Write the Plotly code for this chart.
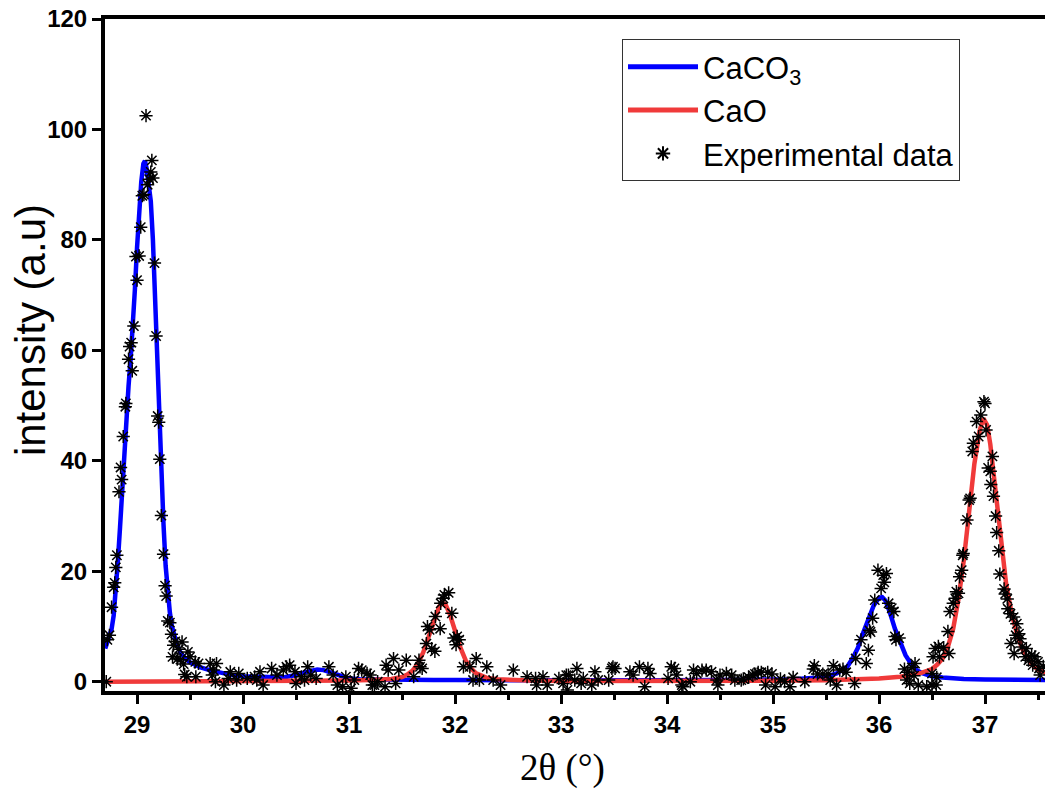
import plotly.graph_objects as go

# ---------------- fitted curves ----------------
caco3_x = [28.70, 28.73, 28.76, 28.78, 28.80, 28.82, 28.84, 28.86, 28.88, 28.90,
           28.92, 28.94, 28.96, 28.98, 29.00, 29.02, 29.04, 29.06, 29.075, 29.09,
           29.11, 29.13, 29.15, 29.17, 29.19, 29.21, 29.23, 29.25, 29.27, 29.29,
           29.31, 29.33, 29.35, 29.38, 29.41, 29.45, 29.50, 29.55, 29.60, 29.70,
           29.80, 29.90, 30.00, 30.10, 30.20, 30.30, 30.40, 30.47, 30.53, 30.58,
           30.64, 30.70, 30.76, 30.82, 30.88, 30.94, 31.00, 31.10, 31.20, 31.40,
           31.60, 31.80, 32.00, 32.50, 33.00, 33.50, 34.00, 34.50, 35.00, 35.20,
           35.40, 35.50, 35.60, 35.70, 35.75, 35.80, 35.85, 35.90, 35.95, 36.00,
           36.03, 36.06, 36.10, 36.15, 36.20, 36.25, 36.30, 36.35, 36.40, 36.50,
           36.60, 36.70, 36.80, 37.00, 37.20, 37.57]
caco3_y = [6.0, 7.5, 9.5, 12.0, 16.0, 22.0, 28.0, 35.0, 42.0, 48.0,
           53.5, 58.5, 64.0, 71.0, 78.5, 85.0, 90.5, 93.8, 94.3, 93.0,
           90.5, 87.0, 80.0, 69.0, 56.0, 45.5, 36.0, 28.5, 21.0, 16.0,
           12.5, 10.0, 8.3, 6.5, 5.3, 4.3, 3.5, 3.0, 2.6, 2.0,
           1.5, 1.2, 1.0, 0.9, 0.8, 0.8, 0.85, 1.0, 1.3, 1.7,
           2.0, 2.2, 2.1, 1.7, 1.2, 0.8, 0.6, 0.45, 0.4, 0.35,
           0.3, 0.3, 0.3, 0.25, 0.25, 0.25, 0.25, 0.3, 0.35, 0.45,
           0.7, 0.9, 1.5, 2.7, 4.2, 6.1, 8.8, 11.4, 13.8, 15.2,
           15.3, 14.7, 12.7, 9.6, 6.9, 4.8, 3.3, 2.2, 1.6, 1.0,
           0.75, 0.6, 0.5, 0.4, 0.35, 0.3]

cao_x = [28.70, 29.50, 30.00, 30.50, 31.00, 31.20, 31.40, 31.50, 31.55, 31.60,
         31.65, 31.70, 31.75, 31.80, 31.85, 31.88, 31.91, 31.95, 32.00, 32.05,
         32.10, 32.15, 32.20, 32.30, 32.40, 32.50, 32.70, 33.00, 33.50, 34.00,
         34.50, 35.00, 35.50, 35.80, 36.00, 36.20, 36.30, 36.40, 36.50, 36.55,
         36.60, 36.65, 36.70, 36.75, 36.80, 36.85, 36.90, 36.95, 36.985, 37.02,
         37.05, 37.10, 37.15, 37.20, 37.25, 37.30, 37.35, 37.40, 37.45, 37.50,
         37.57]
cao_y = [0.0, 0.0, 0.05, 0.1, 0.2, 0.3, 0.5, 0.85, 1.3, 2.0,
         3.3, 5.3, 8.0, 11.0, 13.6, 14.3, 14.0, 12.3, 9.3, 6.2,
         3.9, 2.4, 1.5, 0.7, 0.45, 0.32, 0.22, 0.15, 0.12, 0.12,
         0.13, 0.18, 0.28, 0.42, 0.6, 0.9, 1.2, 1.6, 2.3, 3.1,
         4.2, 6.3, 9.6, 15.0, 22.0, 30.5, 39.5, 45.5, 47.7, 46.5,
         43.0, 34.5, 25.5, 17.6, 12.5, 8.8, 6.0, 4.2, 3.0, 2.2,
         1.6]

# ---------------- experimental data ----------------
exp_x = [
    # 28.7 - 29.45
    28.71, 28.72, 28.74, 28.76, 28.78, 28.79, 28.80, 28.81, 28.83, 28.845,
    28.855, 28.87, 28.89, 28.895, 28.92, 28.93, 28.945, 28.955, 28.97, 28.99,
    29.00, 29.02, 29.035, 29.05, 29.065, 29.085, 29.10, 29.115, 29.13, 29.14,
    29.15, 29.165, 29.18, 29.195, 29.205, 29.215, 29.23, 29.25, 29.265, 29.275,
    29.29, 29.31, 29.325, 29.335, 29.345, 29.36, 29.38, 29.395, 29.41, 29.425,
    29.44, 29.45,
    # 29.45 - 31.3
    29.47, 29.48, 29.50, 29.55, 29.555, 29.58, 29.69, 29.71, 29.72, 29.74,
    29.75, 29.82, 29.86, 29.88, 29.94, 29.96, 30.04, 30.11, 30.13, 30.16,
    30.19, 30.27, 30.32, 30.38, 30.41, 30.44, 30.49, 30.50, 30.55, 30.58,
    30.61, 30.64, 30.69, 30.81, 30.85, 30.89, 30.94, 30.97, 31.02, 31.05,
    31.09, 31.12, 31.17, 31.20, 31.22, 31.24, 31.27,
    # 31.3 - 33.1
    31.34, 31.35, 31.37, 31.42, 31.44, 31.47, 31.54, 31.61, 31.66, 31.67,
    31.69, 31.73, 31.74, 31.76, 31.78, 31.81, 31.815, 31.86, 31.865, 31.89,
    31.90, 31.94, 31.97, 31.99, 32.01, 32.02, 32.04, 32.08, 32.14, 32.17,
    32.20, 32.23, 32.30, 32.36, 32.43, 32.55, 32.68, 32.76, 32.77, 32.83,
    32.87, 32.98, 33.02, 33.07,
    # 33.05 - 34.7
    33.05, 33.06, 33.13, 33.15, 33.19, 33.21, 33.29, 33.32, 33.35, 33.45,
    33.48, 33.49, 33.51, 33.65, 33.68, 33.74, 33.79, 33.82, 33.84, 34.01,
    34.04, 34.07, 34.09, 34.14, 34.15, 34.22, 34.25, 34.28, 34.33, 34.37,
    34.42, 34.47, 34.48, 34.50, 34.56, 34.61, 34.64, 34.70,
    # 34.7 - 36.5
    34.72, 34.77, 34.81, 34.83, 34.86, 34.89, 34.93, 34.95, 34.99, 35.02,
    35.07, 35.11, 35.16, 35.19, 35.30, 35.38, 35.39, 35.42, 35.47, 35.52,
    35.54, 35.57, 35.60, 35.63, 35.66, 35.69, 35.77, 35.78, 35.83, 35.88,
    35.90, 35.91, 35.92, 35.94, 35.96, 35.99, 36.02, 36.04, 36.05, 36.07,
    36.09, 36.12, 36.14, 36.15, 36.16, 36.19, 36.24, 36.26, 36.27, 36.29,
    36.31, 36.33, 36.34, 36.37, 36.45, 36.50,
    # 36.5 - 37.56
    36.50, 36.51, 36.53, 36.54, 36.545, 36.56, 36.57, 36.61, 36.65, 36.66,
    36.67, 36.70, 36.72, 36.73, 36.75, 36.76, 36.78, 36.79, 36.795, 36.83,
    36.85, 36.86, 36.88, 36.89, 36.92, 36.94, 36.96, 36.99, 37.00, 37.01,
    37.03, 37.05, 37.055, 37.07, 37.08, 37.10, 37.11, 37.13, 37.14, 37.18,
    37.19, 37.21, 37.215, 37.24, 37.245, 37.27, 37.275, 37.29, 37.30, 37.32,
    37.33, 37.35, 37.38, 37.39, 37.41, 37.44, 37.45, 37.47, 37.50, 37.51,
    37.52, 37.55,
]
exp_y = [
    # 28.7 - 29.45
    0.0, 7.6, 8.4, 13.5, 17.1, 17.9, 20.7, 22.9, 34.4, 38.8,
    36.6, 44.4, 49.8, 50.4, 58.4, 60.7, 61.4, 56.3, 64.4, 77.0,
    72.7, 77.1, 82.3, 88.0, 88.2, 102.5, 90.0, 91.0, 92.3, 94.4,
    91.2, 75.8, 62.6, 48.1, 47.0, 40.3, 30.1, 23.1, 17.4, 15.5,
    11.0, 10.7, 8.6, 4.5, 6.6, 7.3, 4.1, 5.9, 4.0, 7.2,
    3.2, 1.3,
    # 29.45 - 31.3
    0.9, 5.4, 4.5, 3.6, 0.9, 3.3, 3.3, 1.2, 2.1, 0.0,
    3.3, -0.6, 0.6, 1.8, 0.3, 1.5, 0.6, 0.9, 0.3, 1.8,
    -0.6, 2.4, 1.2, 2.1, 2.7, 3.0, 1.8, -0.3, 0.9, 0.3,
    2.7, 1.2, 0.6, 2.7, 1.2, -0.6, -0.9, 0.9, -1.2, 0.3,
    2.4, 2.1, 1.5, 1.2, -0.6, -0.6, 0.0,
    # 31.3 - 33.1
    -0.9, 3.0, 2.1, 4.2, -0.3, 2.1, 3.9, 0.9, 3.9, 2.7,
    2.4, 6.9, 10.0, 9.4, 6.0, 5.5, 11.8, 9.6, 14.2, 15.1,
    15.7, 16.1, 12.4, 7.9, 6.7, 8.2, 7.6, 2.7, 2.7, 0.3,
    4.2, 0.3, 2.7, 0.3, -0.6, 2.1, 0.9, 0.6, -0.6, 0.9,
    -0.6, 0.6, -0.3, 1.2,
    # 33.05 - 34.7
    1.2, -1.5, 0.3, 2.4, -0.3, 0.6, -0.6, 1.8, 0.3, 0.3,
    2.4, 2.7, 2.4, 1.8, 1.2, 2.7, -0.9, 2.4, 1.5, 0.6,
    2.7, 2.4, 1.2, -0.6, -0.9, 0.0, 2.1, 1.5, 2.1, 2.1,
    1.8, 0.3, -0.6, 1.2, 1.5, 1.2, 0.3, 0.3,
    # 34.7 - 36.5
    0.5, 0.8, 1.2, 1.4, 1.7, 1.7, -0.6, 1.7, 1.4, -0.9,
    0.5, 0.0, -0.9, 0.8, 0.0, 2.3, 2.9, 1.4, 1.4, 1.4,
    0.3, 2.9, -0.6, 2.1, 2.3, 1.7, -0.3, 4.2, 7.6, 3.3,
    5.7, 9.3, 9.0, 11.5, 14.8, 20.2, 16.9, 19.3, 18.0, 19.6,
    14.2, 13.3, 12.7, 8.2, 7.6, 7.9, 2.3, 0.3, 1.7, -0.3,
    2.6, 1.1, 3.3, -0.6, -0.9, -0.6,
    # 36.5 - 37.56
    1.5, 4.5, 6.0, -0.6, 0.8, 6.4, 4.5, 6.2, 9.1, 5.1,
    12.7, 14.2, 15.1, 16.3, 16.0, 19.0, 20.2, 22.9, 23.2, 29.3,
    32.9, 33.2, 41.7, 43.2, 47.1, 44.4, 48.3, 50.7, 50.4, 45.6,
    38.7, 38.1, 35.7, 40.8, 33.6, 30.0, 27.0, 23.7, 19.5, 16.8,
    15.9, 15.0, 13.2, 12.3, 6.9, 11.7, 5.1, 8.4, 10.5, 8.7,
    7.8, 6.3, 4.5, 6.0, 3.9, 4.8, 3.0, 4.5, 3.6, 2.4,
    1.2, 2.8,
]

x_ticks = [29, 30, 31, 32, 33, 34, 35, 36, 37]
y_ticks = [0, 20, 40, 60, 80, 100, 120]

SANS = "Liberation Sans, Arial, sans-serif"
SERIF = "Liberation Serif, Times New Roman, serif"

fig = go.Figure()
fig.add_trace(go.Scatter(x=caco3_x, y=caco3_y, mode="lines", name="CaCO<sub>3</sub>",
                         line=dict(color="#0000FF", width=4.5)))
fig.add_trace(go.Scatter(x=cao_x, y=cao_y, mode="lines", name="CaO",
                         line=dict(color="#F03A3A", width=4.5)))
fig.add_trace(go.Scatter(x=exp_x, y=exp_y, mode="markers", name="Experimental data",
                         marker=dict(symbol="asterisk-open", size=11, color="black",
                                     line=dict(color="black", width=1.5))))

fig.update_layout(
    width=1045, height=789,
    margin=dict(l=105, r=0, t=19, b=98),
    plot_bgcolor="white", paper_bgcolor="white",
    font=dict(family=SANS, color="black"),
    showlegend=True,
    legend=dict(x=0.55, y=0.97, xanchor="left", yanchor="top",
                bgcolor="white", bordercolor="#333333", borderwidth=1,
                font=dict(family=SANS, size=31, color="black"),
                itemwidth=70, tracegroupgap=0, itemsizing="constant"),
    xaxis=dict(range=[28.698, 37.566], tickvals=x_ticks, ticktext=[str(t) for t in x_ticks],
               ticks="outside", ticklen=9, tickwidth=3, tickcolor="black",
               showline=True, linewidth=4, linecolor="black", mirror=True,
               showgrid=False, zeroline=False,
               tickfont=dict(family=SANS, size=24, color="black", weight="bold"),
               minor=dict(dtick=0.5, tick0=29, ticks="outside", ticklen=5, tickwidth=3, tickcolor="black")),
    yaxis=dict(range=[-1.68, 120], tickvals=y_ticks,
               ticks="outside", ticklen=9, tickwidth=3, tickcolor="black",
               showline=True, linewidth=4, linecolor="black", mirror=False,
               showgrid=False, zeroline=False,
               tickfont=dict(family=SANS, size=24, color="black", weight="bold")),
    annotations=[
        dict(text="intensity (a.u)", textangle=-90, xref="paper", yref="paper",
             x=-0.0798, y=0.537, xanchor="center", yanchor="middle", showarrow=False,
             font=dict(family=SANS, size=42, color="black")),
        dict(text="2θ (°)", xref="paper", yref="paper",
             x=0.487, y=-0.1146, xanchor="center", yanchor="middle", showarrow=False,
             font=dict(family=SERIF, size=37, color="black")),
    ],
)

fig.write_html("out.html")
